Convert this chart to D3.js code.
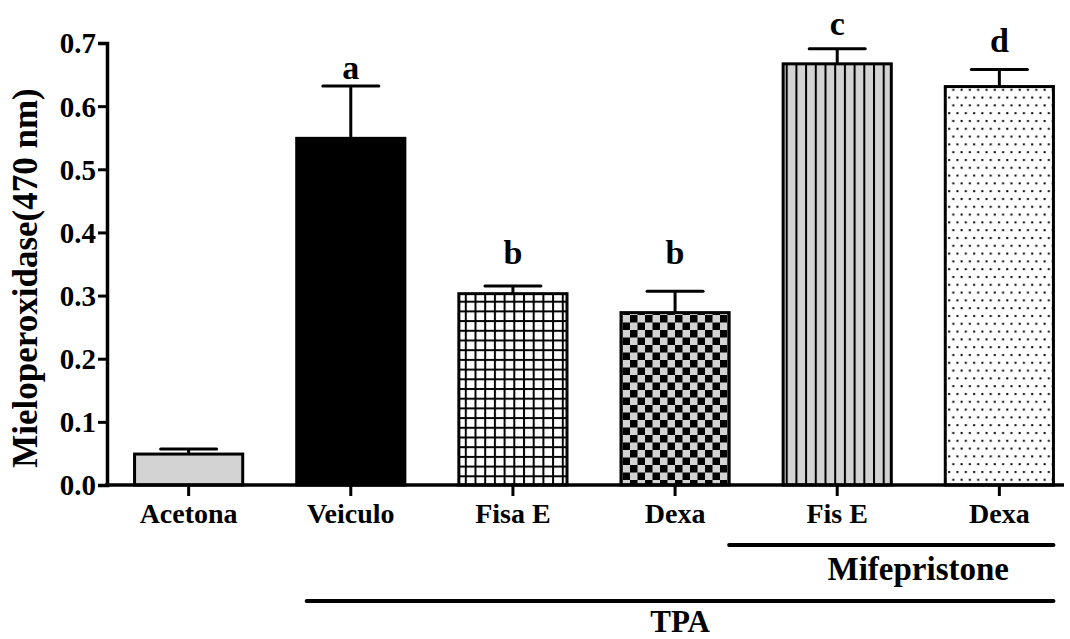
<!DOCTYPE html>
<html>
<head>
<meta charset="utf-8">
<script src="https://cdn.jsdelivr.net/npm/d3@7"></script>
<style>
  body { margin: 0; background: #fff; }
</style>
</head>
<body>
<svg id="chart" width="1070" height="639"></svg>
<script>
// data
const categories = ["Acetona", "Veiculo", "Fisa E", "Dexa", "Fis E", "Dexa"];
const means = [0.049, 0.549, 0.303, 0.273, 0.667, 0.631];
const errTops = [0.057, 0.632, 0.315, 0.307, 0.691, 0.658];
const letters = ["", "a", "b", "b", "c", "d"];
const letterAt = [0, 0.643, 0.350, 0.350, 0.713, 0.686];
const fills = ["#d3d3d3", "#000", "url(#grid)", "url(#checker)", "url(#stripes)", "url(#dots)"];
const yTicks = [0, 0.1, 0.2, 0.3, 0.4, 0.5, 0.6, 0.7];

const FONT = "'Liberation Serif', 'Times New Roman', Times, 'DejaVu Serif', serif";
const svg = d3.select("#chart");

// patterns
const defs = svg.append("defs");

const grid = defs.append("pattern").attr("id", "grid").attr("width", 9.7).attr("height", 9.7)
  .attr("patternUnits", "userSpaceOnUse").attr("x", 135).attr("y", 0);
grid.append("rect").attr("width", 9.7).attr("height", 9.7).attr("fill", "#fff");
grid.append("rect").attr("width", 2).attr("height", 9.7).attr("fill", "#000");
grid.append("rect").attr("width", 9.7).attr("height", 2).attr("fill", "#000");

const checker = defs.append("pattern").attr("id", "checker").attr("width", 15).attr("height", 15)
  .attr("patternUnits", "userSpaceOnUse");
checker.append("rect").attr("width", 15).attr("height", 15).attr("fill", "#d3d3d3");
checker.append("rect").attr("width", 7.5).attr("height", 7.5).attr("fill", "#000");
checker.append("rect").attr("x", 7.5).attr("y", 7.5).attr("width", 7.5).attr("height", 7.5).attr("fill", "#000");

const stripes = defs.append("pattern").attr("id", "stripes").attr("width", 9.7).attr("height", 10)
  .attr("patternUnits", "userSpaceOnUse");
stripes.append("rect").attr("width", 9.7).attr("height", 10).attr("fill", "#d3d3d3");
stripes.append("rect").attr("width", 2).attr("height", 10).attr("fill", "#000");

const dots = defs.append("pattern").attr("id", "dots").attr("width", 8.3).attr("height", 15.6)
  .attr("patternUnits", "userSpaceOnUse");
dots.append("rect").attr("width", 8.3).attr("height", 15.6).attr("fill", "#fff");
dots.append("rect").attr("x", 2).attr("y", 3).attr("width", 2).attr("height", 2).attr("fill", "#000");
dots.append("rect").attr("x", 6.1).attr("y", 10.8).attr("width", 2).attr("height", 2).attr("fill", "#000");

const x = d3.scaleBand().domain(d3.range(categories.length))
  .range([113, 1075]).paddingInner(0.333).paddingOuter(0.133);
const y = d3.scaleLinear().domain([0, 0.7]).range([485, 43]);
const bw = x.bandwidth();

// bars
svg.append("g").selectAll("rect").data(means).join("rect")
  .attr("x", (d, i) => x(i))
  .attr("y", d => y(d))
  .attr("width", bw)
  .attr("height", d => y(0) - y(d))
  .attr("fill", (d, i) => fills[i])
  .attr("stroke", "#000").attr("stroke-width", 3);

// error bars
const eb = svg.append("g").attr("stroke", "#000").attr("stroke-width", 3);
eb.selectAll("line.v").data(errTops).join("line").attr("class", "v")
  .attr("x1", (d, i) => x(i) + bw / 2).attr("x2", (d, i) => x(i) + bw / 2)
  .attr("y1", (d, i) => y(means[i])).attr("y2", d => y(d));
eb.selectAll("line.h").data(errTops).join("line").attr("class", "h")
  .attr("x1", (d, i) => x(i) + bw / 2 - 28).attr("x2", (d, i) => x(i) + bw / 2 + 28)
  .attr("y1", d => y(d)).attr("y2", d => y(d))
  .attr("stroke-linecap", "round");

// significance letters
svg.append("g").selectAll("text").data(letters).join("text")
  .attr("x", (d, i) => x(i) + bw / 2)
  .attr("y", (d, i) => y(letterAt[i]))
  .attr("text-anchor", "middle")
  .style("font-size", "34px")
  .text(d => d);

// y axis
const yAxis = svg.append("g").attr("transform", "translate(107,0)")
  .call(d3.axisLeft(y).tickValues(yTicks).tickFormat(d3.format(".1f")).tickSize(9).tickPadding(2));
yAxis.select(".domain").attr("stroke-width", 3.5);
yAxis.selectAll(".tick line").attr("stroke-width", 3);
yAxis.selectAll(".tick text").style("font-size", "29px").attr("dy", "0.34em");

// x axis
const xAxis = svg.append("g").attr("transform", "translate(0,485)");
xAxis.append("line").attr("x1", 105).attr("x2", 1064).attr("stroke", "#000").attr("stroke-width", 3.5);
xAxis.selectAll("line.tick").data(categories).join("line").attr("class", "tick")
  .attr("x1", (d, i) => x(i) + bw / 2).attr("x2", (d, i) => x(i) + bw / 2)
  .attr("y1", 0).attr("y2", 11).attr("stroke", "#000").attr("stroke-width", 3);
xAxis.selectAll("text").data(categories).join("text")
  .attr("x", (d, i) => x(i) + bw / 2).attr("y", 38)
  .attr("text-anchor", "middle").style("font-size", "28px")
  .text(d => d);

// y title
svg.append("text")
  .attr("transform", "translate(37,278) rotate(-90)")
  .attr("text-anchor", "middle").style("font-size", "35px")
  .text("Mieloperoxidase(470 nm)");

// group brackets
const groups = [
  { label: "Mifepristone", x1: x(3) + bw, x2: x(5) + bw, y: 545 },
  { label: "TPA", x1: x(1) + 10, x2: x(5) + bw, y: 601 }
];
groups.forEach(g => {
  svg.append("line").attr("x1", g.x1).attr("x2", g.x2).attr("y1", g.y).attr("y2", g.y)
    .attr("stroke", "#000").attr("stroke-width", 4).attr("stroke-linecap", "round");
});
svg.append("text").attr("x", (x(4) + x(5) + bw) / 2).attr("y", 580)
  .attr("text-anchor", "middle").style("font-size", "33px").text("Mifepristone");
svg.append("text").attr("x", (x(1) + 10 + x(5) + bw) / 2).attr("y", 632)
  .attr("text-anchor", "middle").style("font-size", "31px").text("TPA");

svg.selectAll("text")
  .style("font-family", FONT)
  .style("font-weight", "bold")
  .attr("fill", "#000");
</script>
</body>
</html>
